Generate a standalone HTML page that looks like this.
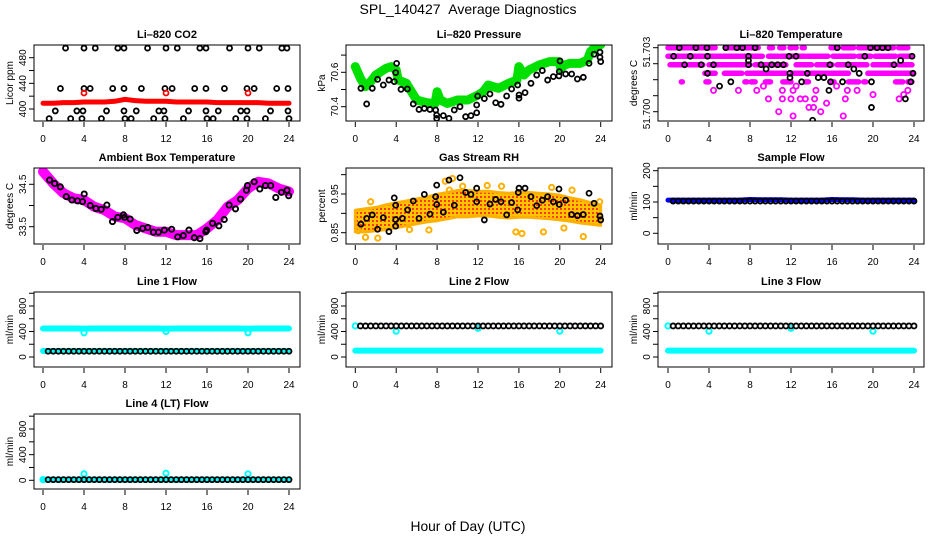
<!DOCTYPE html>
<html><head><meta charset="utf-8"><title>SPL_140427 Average Diagnostics</title>
<style>
html,body{margin:0;padding:0;background:#fff;}
svg{display:block;font-family:"Liberation Sans",Arial,sans-serif;}
</style></head>
<body>
<svg id="chart" width="936" height="540" viewBox="0 0 936 540" xmlns="http://www.w3.org/2000/svg">
<defs>
<pattern id="rhpat" width="4" height="4" patternUnits="userSpaceOnUse">
<rect width="4" height="4" fill="#ffc400"/><rect x="0" y="0" width="2" height="2" fill="#ff3a00"/>
</pattern>
</defs>
<text x="468" y="14" text-anchor="middle" font-size="14" style="white-space:pre">SPL_140427&#160;&#160;Average Diagnostics</text>
<text x="468" y="531" text-anchor="middle" font-size="13.8">Hour of Day (UTC)</text>
</svg>
<script>
// ---------- data ----------
const H25 = [0,1,2,3,4,5,6,7,8,9,10,11,12,13,14,15,16,17,18,19,20,21,22,23,24];
const HALF = [0.5,1,1.5,2,2.5,3,3.5,4,4.5,5,5.5,6,6.5,7,7.5,8,8.5,9,9.5,10,10.5,11,11.5,12,12.5,13,13.5,14,14.5,15,15.5,16,16.5,17,17.5,18,18.5,19,19.5,20,20.5,21,21.5,22,22.5,23,23.5,24];
const hourTicks = [0,4,8,12,16,20,24];

// CO2
const co2RedVals = [409,409,410,410,411,411,411,412,415,413,412,412,412,411,411,411,411,410,410,410,410,410,409,409,409];
const co2BlackHours = [2.2,4.0,5.1,7.3,7.9,10.2,12.0,13.1,15.3,15.9,18.2,20.0,21.1,23.3,23.8, 1.7,4.0,4.6,6.8,7.9,9.6,11.9,12.6,14.8,15.9,17.7,19.9,20.6,22.8,23.9, 1.2,3.3,3.9,6.2,7.9,9.1,11.3,11.8,14.2,15.9,17.1,19.3,19.9,22.2,23.9, 0.6,2.7,3.8,5.7,8.0,8.6,10.8,11.9,13.7,16.0,16.6,18.8,19.9,21.7,24.0];
const co2BlackVals = [495,495,495,495,495,495,495,495,495,495,495,495,495,495,495, 432,432,432,432,432,432,432,432,432,432,432,432,432,432,432, 397,397,397,397,397,397,397,397,397,397,397,397,397,397,397, 385,385,385,385,385,385,385,385,385,385,385,385,385,385,385];
const co2CalHours = [4,12,20];
const co2CalVals = [425,425,425];

// Pressure
const presGreenHours = [0,0.5,1,1.5,2,3,3.5,4,4.2,5,5.5,6,7,7.8,8,8.3,9,10,11,12,12.5,13,14,15,15.8,16,16.5,17,18,19,19.9,20.1,20.5,21,22,22.7,23,23.5,24];
const presGreenVals = [70.633,70.565,70.517,70.546,70.584,70.623,70.633,70.614,70.555,70.536,70.487,70.439,70.423,70.419,70.487,70.439,70.419,70.439,70.439,70.468,70.487,70.526,70.507,70.536,70.555,70.633,70.584,70.614,70.643,70.662,70.662,70.623,70.643,70.652,70.652,70.672,70.720,70.750,70.760];
const presBlackHours = [0.55,1.11,1.66,2.18,2.74,3.29,3.81,3.95,4.04,4.47,5.09,5.67,6.23,6.75,7.30,7.86,7.96,7.96,8.61,9.16,9.68,10.24,10.79,11.31,11.87,11.87,11.97,12.62,13.17,13.73,14.25,14.80,15.29,15.88,16.01,16.01,16.60,17.18,17.74,18.29,18.81,19.37,19.92,19.95,20.02,20.57,21.16,21.72,22.30,22.86,23.35,23.93,23.93,24.0];
const presBlackVals = [70.507,70.416,70.507,70.559,70.526,70.555,70.546,70.598,70.652,70.501,70.503,70.416,70.384,70.390,70.384,70.381,70.351,70.332,70.348,70.332,70.381,70.400,70.342,70.348,70.365,70.410,70.462,70.447,70.474,70.423,70.414,70.462,70.503,70.526,70.468,70.449,70.482,70.536,70.584,70.610,70.555,70.575,70.579,70.604,70.666,70.590,70.590,70.561,70.571,70.652,70.705,70.717,70.687,70.662];

// Li-820 temperature
const tempLevels = [51.7030,51.7026,51.7022,51.7018,51.7014];
const tempSegStart = [[0,5.6,9.9,10.9,11.9,12.4,13.1,15.9,17.1,18.6,22.5],[0,0.8,9.8,11,12,13.6,15,16.1,18.6,20.2,22.6],[0.2,2,4,8.5,12.5,14.5,16.5,20,22.5],[3.6,5.5,7.7,12.1,13.6,15.9,19.5,21.8],[1.3,3.7,7.5,8.1,9.5,11.2,13.4,15.8,17.6,19.1,22.2,23.4]];
const tempSegEnd = [[4.6,8.8,10.2,11.3,12.1,12.5,13.3,16.6,18.1,22.0,23.4],[0.3,9.2,10.8,11.7,13.4,14.9,15.6,18.2,19.8,22.2,23.7],[1.6,3.4,8,11.5,14,16,19.4,22,23.8],[4.6,7.2,11.5,13.2,15.7,17.6,21.6,23.8],[1.4,4.0,7.7,8.5,10.0,12.0,13.7,16.2,18.6,19.3,22.9,23.8]];
const tempMagHours = [4.44,6.87,8.66,9.31,9.8,11.16,11.16,12.0,12.2,12.5,12.9,13.4,13.75,14.2,14.3,14.43,14.9,15.47,10.8,12.2,17.1,17.3,17.5,18.45,20.0,22.55,23.0,23.4,16.45];
const tempMagVals = [51.7010,51.7010,51.7010,51.7012,51.7006,51.7010,51.7006,51.7006,51.7010,51.7012,51.7006,51.7006,51.7002,51.7002,51.7006,51.7010,51.7000,51.7004,51.7000,51.6998,51.6998,51.7006,51.7010,51.7010,51.7008,51.7006,51.7008,51.7010,51.7012];
const tempBlackHours = [0.55,1.10,1.62,2.17,2.72,3.24,3.80,3.86,3.86,4.44,5.03,5.64,6.13,6.71,7.27,7.85,7.85,7.85,8.50,9.08,9.57,10.12,10.70,11.26,11.81,11.90,11.90,12.49,13.04,13.59,14.11,14.66,15.21,15.70,15.80,15.86,16.51,17.03,17.58,18.13,18.65,19.20,19.75,19.85,19.85,20.40,20.92,21.47,22.05,22.70,23.16,23.68,23.81,23.90];
const tempBlackVals = [51.7026,51.7030,51.7022,51.7026,51.7030,51.7022,51.7030,51.7026,51.7018,51.7022,51.7012,51.7030,51.7014,51.7030,51.7030,51.7026,51.7024,51.7022,51.7030,51.7022,51.7020,51.7022,51.7022,51.7022,51.7026,51.7018,51.7016,51.7026,51.7014,51.7018,51.6996,51.7016,51.7016,51.7010,51.7022,51.7014,51.7030,51.7014,51.7022,51.7020,51.7018,51.7026,51.7030,51.7014,51.7002,51.7030,51.7030,51.7030,51.7022,51.7024,51.7006,51.7014,51.7026,51.7018];

// Ambient box temperature
const ambMagVals = [34.80,34.52,34.29,34.17,34.13,33.97,33.89,33.74,33.70,33.54,33.46,33.38,33.38,33.30,33.30,33.30,33.46,33.66,33.97,34.13,34.40,34.56,34.52,34.40,34.33];
const ambBlackHours = [0.65,1.14,1.69,2.27,2.82,3.37,3.86,4.02,4.61,5.16,5.68,6.23,6.78,7.30,7.85,7.95,8.50,9.15,9.73,10.22,10.77,11.26,11.84,12.55,13.14,13.69,14.24,14.76,15.31,15.89,15.96,16.54,17.16,17.68,18.16,18.78,19.27,19.85,19.95,20.60,21.15,21.70,22.22,22.71,23.26,23.81,23.97];
const ambBlackVals = [34.60,34.52,34.44,34.21,34.13,34.11,34.09,34.27,34.00,33.93,33.91,34.01,33.62,33.72,33.78,33.72,33.68,33.41,33.46,33.48,33.37,33.37,33.42,33.44,33.26,33.29,33.42,33.24,33.22,33.38,33.42,33.58,33.52,33.67,34.01,33.92,34.15,34.36,34.47,34.56,34.39,34.47,34.47,34.19,34.31,34.36,34.23];

// Gas stream RH
const rhCenter = [0.880,0.882,0.885,0.890,0.895,0.900,0.905,0.910,0.915,0.920,0.925,0.925,0.925,0.925,0.922,0.920,0.922,0.922,0.920,0.918,0.915,0.910,0.905,0.900,0.895];
const rhSpread = [0.028,0.030,0.030,0.032,0.032,0.032,0.032,0.032,0.034,0.034,0.034,0.034,0.032,0.032,0.032,0.032,0.032,0.032,0.032,0.032,0.032,0.030,0.030,0.028,0.026];
const rhOutHours = [0.3,1.0,2.2,5.3,7.2,9.2,8.8,9.5,10.5,12.9,14.3,15.7,16.3,19.2,21.2,22.3,23.9,1.5,18.4,20.4];
const rhOutVals = [0.855,0.838,0.836,0.858,0.857,0.960,0.983,0.990,0.970,0.972,0.970,0.852,0.848,0.967,0.960,0.840,0.930,0.930,0.852,0.862];
const rhBlackHours = [0.55,1.11,1.66,2.18,2.74,3.29,3.81,3.95,3.95,3.95,4.60,5.12,5.67,6.23,6.75,7.30,7.86,7.96,7.96,8.61,9.16,9.68,10.24,10.79,11.31,11.87,11.87,12.62,13.17,13.73,14.25,14.80,15.29,15.88,15.94,16.01,16.60,17.18,17.74,18.29,18.81,19.37,19.92,19.95,20.57,21.16,21.72,22.30,22.86,23.35,23.93,24.00];
const rhBlackVals = [0.872,0.887,0.896,0.859,0.889,0.853,0.940,0.921,0.884,0.867,0.887,0.909,0.932,0.887,0.949,0.898,0.943,0.973,0.923,0.903,0.986,0.921,0.992,0.954,0.949,0.965,0.930,0.883,0.924,0.936,0.930,0.896,0.928,0.909,0.954,0.965,0.965,0.943,0.920,0.934,0.943,0.930,0.963,0.923,0.934,0.897,0.894,0.897,0.952,0.926,0.893,0.883];

// Flows
const sampleBlue = [106,106,106,106,106,106,106,106,108,107,107,107,106,106,106,106,108,107,107,106,106,106,106,106,106];
const sampleBlack = [103,103,103,103,103,103,103,103,103,103,103,103,103,103,103,103,103,103,103,103,103,103,103,103,103,103,103,103,103,103,103,103,103,103,103,103,103,103,103,103,103,103,103,103,103,103,103,103];
const line1CyanHigh = [447,447,447,447,445,447,447,447,447,447,447,447,445,447,447,447,447,447,447,447,445,447,447,447,447];
const line1CyanLow = [95,95,95,95,95,95,95,95,95,95,95,95,95,95,95,95,95,95,95,95,95,95,95,95,95];
const line1Black = [90,90,90,90,90,90,90,90,90,90,90,90,90,90,90,90,90,90,90,90,90,90,90,90,90,90,90,90,90,90,90,90,90,90,90,90,90,90,90,90,90,90,90,90,90,90,90,90];
const line1CalHours = [4,12,20];
const line1CalVals = [380,400,380];
const line2CyanLow = [100,100,100,100,100,100,100,100,100,100,100,100,100,100,100,100,100,100,100,100,100,100,100,100,100];
const line2Black = [487,487,487,487,487,487,487,487,487,487,487,487,487,487,487,487,487,487,487,487,487,487,487,487,487,487,487,487,487,487,487,487,487,487,487,487,487,487,487,487,487,487,487,487,487,487,487,487];
const line2CalHours = [0,4,12,20];
const line2CalVals = [487,405,450,405];
const line3CyanLow = [100,100,100,100,100,100,100,100,100,100,100,100,100,100,100,100,100,100,100,100,100,100,100,100,100];
const line3Black = [487,487,487,487,487,487,487,487,487,487,487,487,487,487,487,487,487,487,487,487,487,487,487,487,487,487,487,487,487,487,487,487,487,487,487,487,487,487,487,487,487,487,487,487,487,487,487,487];
const line3CalHours = [0,4,12,20];
const line3CalVals = [487,405,450,405];
const line4Cyan = [10,10,10,10,10,10,10,10,10,10,10,10,10,10,10,10,10,10,10,10,10,10,10,10,10];
const line4Black = [10,10,10,10,10,10,10,10,10,10,10,10,10,10,10,10,10,10,10,10,10,10,10,10,10,10,10,10,10,10,10,10,10,10,10,10,10,10,10,10,10,10,10,10,10,10,10,10];
const line4CalHours = [0,4,12,20];
const line4CalVals = [10,100,110,100];

// ---------- drawing ----------
const NS = "http://www.w3.org/2000/svg";
const svg = document.getElementById("chart");
function mk(parent, tag, attrs){
  const e = document.createElementNS(NS, tag);
  for (const k in attrs) e.setAttribute(k, attrs[k]);
  parent.appendChild(e);
  return e;
}
let clipId = 0;
function panel(cfg){
  const g = mk(svg, "g", {});
  
  
  const sx = h => cfg.x0 + h/24*(cfg.x24-cfg.x0);
  const sy = v => cfg.ya + (v-cfg.va)*(cfg.yb-cfg.ya)/(cfg.vb-cfg.va);
  const cid = "clip" + (clipId++);
  const cp = mk(svg.querySelector("defs"), "clipPath", {id: cid});
  mk(cp, "rect", {x: cfg.bx0, y: cfg.by0, width: cfg.bx1-cfg.bx0, height: cfg.by1-cfg.by0});
  const plot = mk(g, "g", {"clip-path": "url(#"+cid+")"});
  
  
  const t = mk(g, "text", {x: (cfg.bx0+cfg.bx1)/2, y: cfg.by0-7, "text-anchor":"middle", "font-size":"11", "font-weight":"bold"});
  t.textContent = cfg.title;
  
  
  const yl = mk(g, "text", {transform: "translate("+(cfg.bx0-21)+","+((cfg.by0+cfg.by1)/2)+") rotate(-90)", "text-anchor":"middle", "font-size":"10"});
  yl.textContent = cfg.ylabel;
  
  
  hourTicks.forEach(h => {
    const tk = mk(g, "line", {x1: sx(h), x2: sx(h), y1: cfg.by1+1, y2: cfg.by1+6, stroke:"#000", "stroke-width":"1"});
    
    
    const lb = mk(g, "text", {x: sx(h), y: cfg.by1+21, "text-anchor":"middle", "font-size":"10"});
    lb.textContent = h;
    
    
  });
  cfg.yticks.forEach(v => {
    const y = sy(v);
    const tk = mk(g, "line", {x1: cfg.bx0-5, x2: cfg.bx0, y1: y, y2: y, stroke:"#000", "stroke-width":"1"});
    
    
  });
  cfg.ylabels.forEach((v, i) => {
    const y = cfg.ylabelPos ? cfg.ylabelPos[i] : sy(v);
    const lb = mk(g, "text", {transform: "translate("+(cfg.bx0-8)+","+y+") rotate(-90)", "text-anchor":"middle", "font-size":"10"});
    lb.textContent = cfg.ylabelText ? cfg.ylabelText[i] : v;
    
    
  });
  const box = mk(g, "rect", {x: cfg.bx0, y: cfg.by0, width: cfg.bx1-cfg.bx0, height: cfg.by1-cfg.by0, fill:"none", stroke:"#000", "stroke-width":"1"});
  
  
  return {plot, sx, sy};
}
function circles(p, hours, vals, color, name, r, sw){
  hours.forEach((h, i) => {
    const c = mk(p.plot, "circle", {cx: p.sx(h), cy: p.sy(vals[i]), r: r||2.5, fill:"none", stroke: color, "stroke-width": sw||1.8});
    
    
  });
}
function band(p, hours, vals, color, width, name){
  const pl = mk(p.plot, "polyline", {points: hours.map((h,i)=>p.sx(h)+","+p.sy(vals[i])).join(" "), fill:"none", stroke: color, "stroke-width": width, "stroke-linejoin":"round", "stroke-linecap":"round"});
  
  
}
const C1 = {bx0:34, bx1:300, x0:43, x24:289};
const C2 = {bx0:346, bx1:612, x0:355.3, x24:600.7};
const C3 = {bx0:658, bx1:924, x0:668, x24:914};
const R1 = {by0:45, by1:121}, R2 = {by0:168, by1:244}, R3 = {by0:292, by1:367}, R4 = {by0:414, by1:489};

let p = panel(Object.assign({name:"co2", title:"Li\u2013820 CO2", ylabel:"Licor ppm", va:400, ya:109, vb:480, yb:57.7, yticks:[400,420,440,460,480], ylabels:[400,440,480]}, C1, R1));
band(p, H25, co2RedVals, "#ff0000", 5, "co2-series-red");
circles(p, co2BlackHours, co2BlackVals, "#000", "co2-point");
circles(p, co2CalHours, co2CalVals, "#ff0000", "co2-cal-point");

p = panel(Object.assign({name:"pressure", title:"Li\u2013820 Pressure", ylabel:"kPa", va:70.4, ya:106.7, vb:70.6, yb:72.3, yticks:[70.4,70.5,70.6,70.7], ylabels:[70.4,70.6]}, C2, R1));
band(p, presGreenHours, presGreenVals, "#00e000", 9, "pressure-series-green");
circles(p, presBlackHours, presBlackVals, "#000", "pressure-point");

p = panel(Object.assign({name:"li820-temp", title:"Li\u2013820 Temperature", ylabel:"degrees C", va:51.700, ya:111.7, vb:51.703, yb:47.7, yticks:[51.700,51.70075,51.7015,51.70225,51.703], ylabels:[51.700,51.703], ylabelText:["51.700","51.703"], ylabelPos:[114,52]}, C3, R1));
tempLevels.forEach((lv, k) => {
  tempSegStart[k].forEach((s, i) => {
    const ln = mk(p.plot, "line", {x1: p.sx(s), x2: p.sx(tempSegEnd[k][i]), y1: p.sy(lv), y2: p.sy(lv), stroke:"#ff00ff", "stroke-width":"5.5", "stroke-linecap":"round"});
    
    
  });
});
circles(p, tempMagHours, tempMagVals, "#ff00ff", "temp-magenta-point", 2.6, 1.8);
circles(p, tempBlackHours, tempBlackVals, "#000", "temp-point");

p = panel(Object.assign({name:"ambient-temp", title:"Ambient Box Temperature", ylabel:"degrees C", va:33.5, ya:226.7, vb:34.5, yb:184.3, yticks:[33.5,34.0,34.5], ylabels:[33.5,34.5], ylabelText:["33.5","34.5"]}, C1, R2));
band(p, H25, ambMagVals, "#ff00ff", 10, "ambient-series-magenta");
circles(p, ambBlackHours, ambBlackVals, "#000", "ambient-point", 2.6, 1.9);

p = panel(Object.assign({name:"gas-rh", title:"Gas Stream RH", ylabel:"percent", va:0.85, ya:232.7, vb:0.95, yb:194, yticks:[0.85,0.90,0.95,1.0], ylabels:[0.85,0.95]}, C2, R2));
const upper = H25.map((h,i)=>p.sx(h)+","+p.sy(rhCenter[i]+rhSpread[i]));
const lower = H25.map((h,i)=>p.sx(h)+","+p.sy(rhCenter[i]-rhSpread[i])).reverse();
const poly = mk(p.plot, "polygon", {points: upper.concat(lower).join(" "), fill:"url(#rhpat)", stroke:"#ffb000", "stroke-width":"3", "stroke-linejoin":"round"});


circles(p, rhOutHours, rhOutVals, "#ffb000", "rh-orange-point", 2.6, 2);
circles(p, rhBlackHours, rhBlackVals, "#000", "rh-point");

p = panel(Object.assign({name:"sample-flow", title:"Sample Flow", ylabel:"ml/min", va:0, ya:233.3, vb:200, yb:170.7, yticks:[0,50,100,150,200], ylabels:[0,100,200]}, C3, R2));
band(p, H25, sampleBlue, "#0000ee", 5, "sample-series-blue");
circles(p, HALF, sampleBlack, "#000", "sample-point");

const flowTicks = [0,200,400,600,800,1000];
p = panel(Object.assign({name:"line1-flow", title:"Line 1 Flow", ylabel:"ml/min", va:0, ya:357, vb:800, yb:306, yticks:flowTicks, ylabels:[0,400,800]}, C1, R3));
band(p, H25, line1CyanHigh, "#00ffff", 6, "line1-series-cyan-high");
band(p, H25, line1CyanLow, "#00ffff", 6, "line1-series-cyan-low");
circles(p, HALF, line1Black, "#000", "line1-point");
circles(p, line1CalHours, line1CalVals, "#00ffff", "line1-cal-point", 2.6, 2);

p = panel(Object.assign({name:"line2-flow", title:"Line 2 Flow", ylabel:"ml/min", va:0, ya:357, vb:800, yb:306, yticks:flowTicks, ylabels:[0,400,800]}, C2, R3));
band(p, H25, line2CyanLow, "#00ffff", 6, "line2-series-cyan");
circles(p, line2CalHours, line2CalVals, "#00ffff", "line2-cal-point", 2.6, 2);
circles(p, HALF, line2Black, "#000", "line2-point");

p = panel(Object.assign({name:"line3-flow", title:"Line 3 Flow", ylabel:"ml/min", va:0, ya:357, vb:800, yb:306, yticks:flowTicks, ylabels:[0,400,800]}, C3, R3));
band(p, H25, line3CyanLow, "#00ffff", 6, "line3-series-cyan");
circles(p, line3CalHours, line3CalVals, "#00ffff", "line3-cal-point", 2.6, 2);
circles(p, HALF, line3Black, "#000", "line3-point");

p = panel(Object.assign({name:"line4-flow", title:"Line 4 (LT) Flow", ylabel:"ml/min", va:0, ya:480.3, vb:800, yb:429, yticks:flowTicks, ylabels:[0,400,800]}, C1, R4));
band(p, H25, line4Cyan, "#00ffff", 6, "line4-series-cyan");
circles(p, line4CalHours, line4CalVals, "#00ffff", "line4-cal-point", 2.6, 2);
circles(p, HALF, line4Black, "#000", "line4-point");
</script>
</body></html>
